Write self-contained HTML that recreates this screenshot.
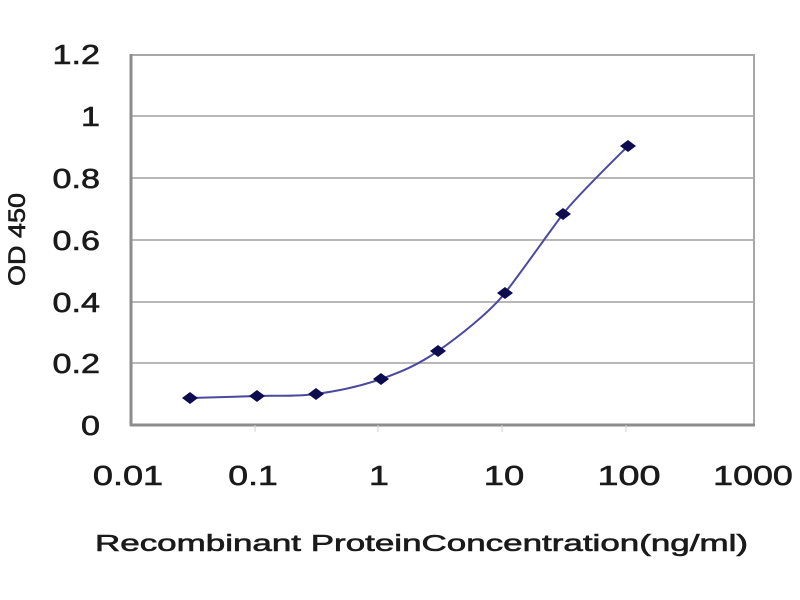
<!DOCTYPE html>
<html>
<head>
<meta charset="utf-8">
<style>
html,body{margin:0;padding:0;background:#fff;}
svg{display:block;}
text{font-family:"Liberation Sans",Arial,sans-serif;fill:#1a1a1a;stroke:#1a1a1a;stroke-width:0.6;}
</style>
</head>
<body>
<svg width="800" height="600" viewBox="0 0 800 600" xmlns="http://www.w3.org/2000/svg">
  <rect x="0" y="0" width="800" height="600" fill="#fff"/>
  <!-- gridlines -->
  <g stroke="#b8b8b8" stroke-width="2">
    <line x1="131" y1="116" x2="754" y2="116"/>
    <line x1="131" y1="178" x2="754" y2="178"/>
    <line x1="131" y1="240" x2="754" y2="240"/>
    <line x1="131" y1="302" x2="754" y2="302"/>
    <line x1="131" y1="363" x2="754" y2="363"/>
  </g>
  <!-- plot border -->
  <rect x="131" y="55" width="623" height="370" fill="none" stroke="#a8a8a8" stroke-width="2"/>
  <line x1="131" y1="54" x2="131" y2="426" stroke="#8c8c8c" stroke-width="3"/>
  <line x1="130" y1="425" x2="755" y2="425" stroke="#8c8c8c" stroke-width="3"/>
  <!-- x ticks -->
  <g stroke="#d0d0d0" stroke-width="1">
    <line x1="255" y1="425" x2="255" y2="432"/>
    <line x1="378" y1="425" x2="378" y2="432"/>
    <line x1="502" y1="425" x2="502" y2="432"/>
    <line x1="626" y1="425" x2="626" y2="432"/>
  </g>
  <!-- curve -->
  <path d="M190,398 C201.2,397.7 236,396.7 257,396 C278,395.3 295.3,396.8 316,394 C336.7,391.2 360.7,386.2 381,379 C401.3,371.8 417.3,365.3 438,351 C458.7,336.7 490,312 505,293 C520,274 550,231 563,214 C576,197 617,157 628,146" fill="none" stroke="#4a4a9e" stroke-width="2"/>
  <!-- markers -->
  <g fill="#0c0c4e">
    <path d="M182,398 L190,392 L198,398 L190,404 Z"/>
    <path d="M249,396 L257,390 L265,396 L257,402 Z"/>
    <path d="M308,394 L316,388 L324,394 L316,400 Z"/>
    <path d="M373,379 L381,373 L389,379 L381,385 Z"/>
    <path d="M430,351 L438,345 L446,351 L438,357 Z"/>
    <path d="M497,293 L505,287 L513,293 L505,299 Z"/>
    <path d="M555,214 L563,208 L571,214 L563,220 Z"/>
    <path d="M620,146 L628,140 L636,146 L628,152 Z"/>
  </g>
  <!-- y tick labels -->
  <g font-size="28" text-anchor="end">
    <text transform="translate(100,64) scale(1.22,1)">1.2</text>
    <text transform="translate(100,126) scale(1.22,1)">1</text>
    <text transform="translate(100,188) scale(1.22,1)">0.8</text>
    <text transform="translate(100,250) scale(1.22,1)">0.6</text>
    <text transform="translate(100,312) scale(1.22,1)">0.4</text>
    <text transform="translate(100,373) scale(1.22,1)">0.2</text>
    <text transform="translate(100,435) scale(1.22,1)">0</text>
  </g>
  <!-- x tick labels -->
  <g font-size="28" text-anchor="middle">
    <text transform="translate(128,485) scale(1.29,1)">0.01</text>
    <text transform="translate(253,485) scale(1.27,1)">0.1</text>
    <text transform="translate(379,485) scale(1.28,1)">1</text>
    <text transform="translate(504,485) scale(1.3,1)">10</text>
    <text transform="translate(629,485) scale(1.35,1)">100</text>
    <text transform="translate(753,485) scale(1.28,1)">1000</text>
  </g>
  <!-- axis titles -->
  <text x="95" y="551" font-size="23" textLength="653" lengthAdjust="spacingAndGlyphs">Recombinant ProteinConcentration(ng/ml)</text>
  <text transform="translate(25,286) rotate(-90)" font-size="24" textLength="93" lengthAdjust="spacingAndGlyphs">OD 450</text>
</svg>
</body>
</html>
